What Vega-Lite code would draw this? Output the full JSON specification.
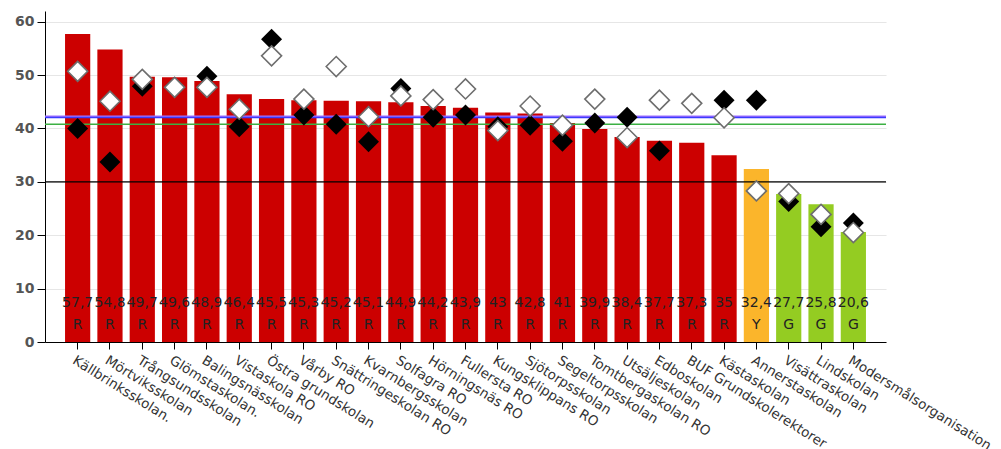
{
  "$schema": "https://vega.github.io/schema/vega-lite/v6.json",
  "width": 841,
  "height": 331,
  "autosize": {"type": "none"},
  "padding": {"left": 45, "top": 11, "right": 115, "bottom": 107},
  "background": "white",
  "config": {
    "view": {"stroke": null},
    "axis": {"labelFont": "DejaVu Sans", "domainColor": "black", "tickColor": "black"}
  },
  "datasets": {
    "schools": [
      {"name": "Källbrinksskolan.", "value": 57.7, "label": "57,7", "grade": "R", "black": 40.0, "white": 50.7},
      {"name": "Mörtviksskolan", "value": 54.8, "label": "54,8", "grade": "R", "black": 33.7, "white": 45.1},
      {"name": "Trångsundsskolan", "value": 49.7, "label": "49,7", "grade": "R", "black": 47.9, "white": 49.2},
      {"name": "Glömstaskolan.", "value": 49.6, "label": "49,6", "grade": "R", "black": 47.7, "white": 47.7},
      {"name": "Balingsnässkolan", "value": 48.9, "label": "48,9", "grade": "R", "black": 49.8, "white": 47.7},
      {"name": "Vistaskola RO", "value": 46.4, "label": "46,4", "grade": "R", "black": 40.3, "white": 43.6},
      {"name": "Östra grundskolan", "value": 45.5, "label": "45,5", "grade": "R", "black": 56.7, "white": 53.6},
      {"name": "Vårby RO", "value": 45.3, "label": "45,3", "grade": "R", "black": 42.5, "white": 45.5},
      {"name": "Snättringeskolan RO", "value": 45.2, "label": "45,2", "grade": "R", "black": 40.8, "white": 51.6},
      {"name": "Kvarnbergsskolan", "value": 45.1, "label": "45,1", "grade": "R", "black": 37.5, "white": 42.2},
      {"name": "Solfagra RO", "value": 44.9, "label": "44,9", "grade": "R", "black": 47.5, "white": 46.1},
      {"name": "Hörningsnäs RO", "value": 44.2, "label": "44,2", "grade": "R", "black": 42.1, "white": 45.4},
      {"name": "Fullersta RO", "value": 43.9, "label": "43,9", "grade": "R", "black": 42.5, "white": 47.4},
      {"name": "Kungsklippans RO", "value": 43.0, "label": "43", "grade": "R", "black": 40.3, "white": 39.6},
      {"name": "Sjötorpsskolan", "value": 42.8, "label": "42,8", "grade": "R", "black": 40.6, "white": 44.2},
      {"name": "Segeltorpsskolan", "value": 41.0, "label": "41", "grade": "R", "black": 37.6, "white": 40.6},
      {"name": "Tomtbergaskolan RO", "value": 39.9, "label": "39,9", "grade": "R", "black": 41.0, "white": 45.5},
      {"name": "Utsäljeskolan", "value": 38.4, "label": "38,4", "grade": "R", "black": 42.1, "white": 38.3},
      {"name": "Edboskolan", "value": 37.7, "label": "37,7", "grade": "R", "black": 35.8, "white": 45.3},
      {"name": "BUF Grundskolerektorer", "value": 37.3, "label": "37,3", "grade": "R", "black": null, "white": 44.7},
      {"name": "Kästaskolan", "value": 35.0, "label": "35", "grade": "R", "black": 45.3, "white": 42.0},
      {"name": "Annerstaskolan", "value": 32.4, "label": "32,4", "grade": "Y", "black": 45.3, "white": 28.3},
      {"name": "Visättraskolan", "value": 27.7, "label": "27,7", "grade": "G", "black": 26.3, "white": 27.8},
      {"name": "Lindskolan", "value": 25.8, "label": "25,8", "grade": "G", "black": 21.6, "white": 23.9},
      {"name": "Modersmålsorganisation", "value": 20.6, "label": "20,6", "grade": "G", "black": 22.3, "white": 20.5}
    ],
    "refs": [{"ref": 0}]
  },
  "data": {"name": "schools"},
  "layer": [
    {
      "mark": {"type": "bar"},
      "encoding": {
        "x": {
          "field": "name",
          "type": "nominal",
          "sort": null,
          "scale": {"paddingInner": 0.22, "paddingOuter": 0.62},
          "axis": {
            "title": null,
            "labelAngle": 32,
            "labelAlign": "left",
            "labelBaseline": "top",
            "labelFont": "DejaVu Sans",
            "labelFontSize": 13.5,
            "labelColor": "#333",
            "labelPadding": 4,
            "tickSize": 7,
            "labelLimit": 400,
            "labelOverlap": false
          }
        },
        "y": {
          "field": "value",
          "type": "quantitative",
          "scale": {"domain": [0, 62], "nice": false},
          "axis": {
            "title": null,
            "values": [0, 10, 20, 30, 40, 50, 60],
            "labelFontSize": 14,
            "labelColor": "#555",
            "labelFontWeight": "bold",
            "tickSize": 8,
            "labelPadding": 3,
            "gridColor": "#e6e6e6",
            "gridWidth": 1.2
          }
        },
        "color": {
          "field": "grade",
          "type": "nominal",
          "scale": {"domain": ["R", "Y", "G"], "range": ["#cc0000", "#fbb52b", "#94cc22"]},
          "legend": null
        }
      }
    },
    {
      "data": {"name": "refs"},
      "mark": {"type": "rule", "color": "black", "strokeWidth": 1.3},
      "encoding": {"y": {"datum": 30, "type": "quantitative"}}
    },
    {
      "data": {"name": "refs"},
      "mark": {"type": "rule", "color": "#3cb043", "strokeWidth": 1.5},
      "encoding": {"y": {"datum": 40.8, "type": "quantitative"}}
    },
    {
      "data": {"name": "refs"},
      "mark": {"type": "rule", "color": "#a070ff", "strokeWidth": 1.5},
      "encoding": {"y": {"datum": 42.3, "type": "quantitative"}}
    },
    {
      "data": {"name": "refs"},
      "mark": {"type": "rule", "color": "#3b3bff", "strokeWidth": 1.5},
      "encoding": {"y": {"datum": 42.05, "type": "quantitative"}}
    },
    {
      "mark": {"type": "point", "shape": "diamond", "filled": true, "color": "black", "size": 440, "opacity": 1},
      "encoding": {
        "x": {"field": "name", "type": "nominal", "sort": null},
        "y": {"field": "black", "type": "quantitative"}
      }
    },
    {
      "mark": {"type": "point", "shape": "diamond", "filled": true, "fill": "white", "stroke": "#6e6e6e", "strokeWidth": 1.6, "size": 400, "opacity": 1, "fillOpacity": 1},
      "encoding": {
        "x": {"field": "name", "type": "nominal", "sort": null},
        "y": {"field": "white", "type": "quantitative"}
      }
    },
    {
      "mark": {"type": "text", "font": "DejaVu Sans", "fontSize": 14, "color": "#222", "baseline": "middle"},
      "encoding": {
        "x": {"field": "name", "type": "nominal", "sort": null},
        "y": {"datum": 7.3, "type": "quantitative"},
        "text": {"field": "label"}
      }
    },
    {
      "mark": {"type": "text", "font": "DejaVu Sans", "fontSize": 14, "color": "#222", "baseline": "middle"},
      "encoding": {
        "x": {"field": "name", "type": "nominal", "sort": null},
        "y": {"datum": 3.2, "type": "quantitative"},
        "text": {"field": "grade"}
      }
    }
  ]
}
